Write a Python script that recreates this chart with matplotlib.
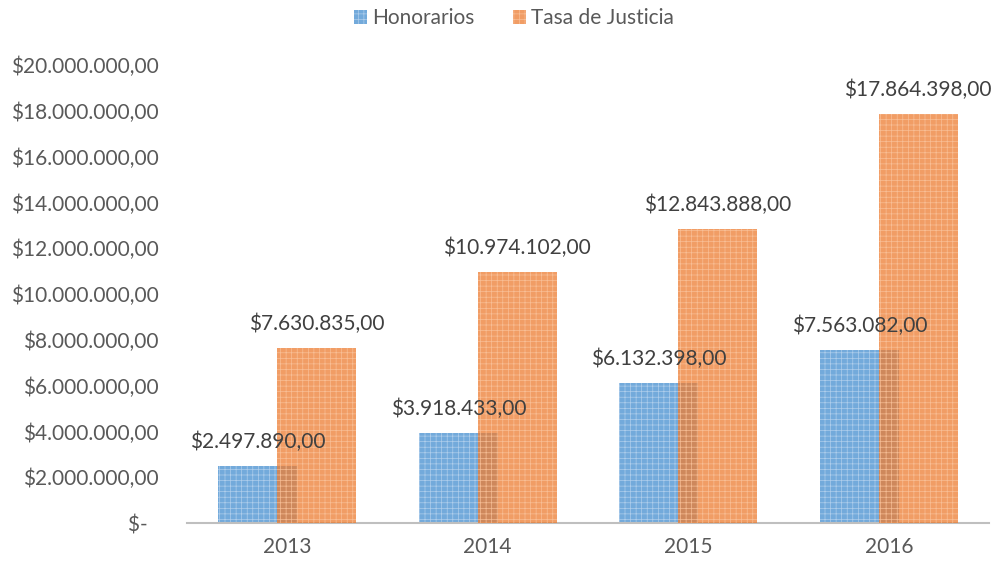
import matplotlib
matplotlib.use("Agg")
import matplotlib.pyplot as plt
import numpy as np

years = ["2013", "2014", "2015", "2016"]
honorarios = [2497890.00, 3918433.00, 6132398.00, 7563082.00]
tasa = [7630835.00, 10974102.00, 12843888.00, 17864398.00]
yticks = [0, 2e6, 4e6, 6e6, 8e6, 10e6, 12e6, 14e6, 16e6, 18e6, 20e6]

def fmt(v):
    s = f"{v:,.2f}"
    s = s.replace(",", "X").replace(".", ",").replace("X", ".")
    return "$" + s

plt.rcParams['font.family'] = ['Lato', 'DejaVu Sans']
plt.rcParams['hatch.linewidth'] = 0.5
txt = "#595959"
lbl = "#404040"
blue = "#5B9BD5"
orange = "#ED7D31"
fs = 15

fig = plt.figure(figsize=(10, 5.67), dpi=100)
ax = fig.add_axes([0.187, 0.0776, 0.802, 0.8074])

x = np.arange(len(years))
w = 0.394
off = 0.147
b1 = ax.bar(x - off, honorarios, w, color=blue, alpha=0.85, edgecolor="#b9d4ee",
            linewidth=0, hatch="+++", label="Honorarios", zorder=2)
b2 = ax.bar(x + off, tasa, w, color=orange, alpha=0.75, edgecolor="#fbcaa6",
            linewidth=0, hatch="+++", label="Tasa de Justicia", zorder=3)

for xi, v in zip(x - off, honorarios):
    ax.annotate(fmt(v), (xi, v), xytext=(0, 10), textcoords="offset points",
                ha="center", va="bottom", fontsize=fs, color=lbl, zorder=5)
for xi, v in zip(x + off, tasa):
    ax.annotate(fmt(v), (xi, v), xytext=(0, 10), textcoords="offset points",
                ha="center", va="bottom", fontsize=fs, color=lbl, zorder=5,
                annotation_clip=False)

ax.set_xlim(-0.5, len(years) - 0.5)
ax.set_ylim(0, 20e6)
ax.set_yticks(yticks)
ax.set_yticklabels(["$-  "] + [fmt(v) for v in yticks[1:]])
ax.set_xticks(x)
ax.set_xticklabels(years)
ax.tick_params(axis="both", length=0, labelsize=fs, labelcolor=txt)
ax.tick_params(axis="y", pad=20.5)
ax.tick_params(axis="x", pad=10)
for s in ["top", "right", "left"]:
    ax.spines[s].set_visible(False)
ax.spines["bottom"].set_color("#bfbfbf")
ax.spines["bottom"].set_linewidth(1.5)

leg = fig.legend(handles=[b1, b2], loc="upper center", bbox_to_anchor=(0.514, 1.019),
                 ncol=2, frameon=False, fontsize=fs, handlelength=0.65,
                 handleheight=0.65, handletextpad=0.25, columnspacing=1.8)
for t in leg.get_texts():
    t.set_color(txt)

fig.savefig("out.png", dpi=100)
